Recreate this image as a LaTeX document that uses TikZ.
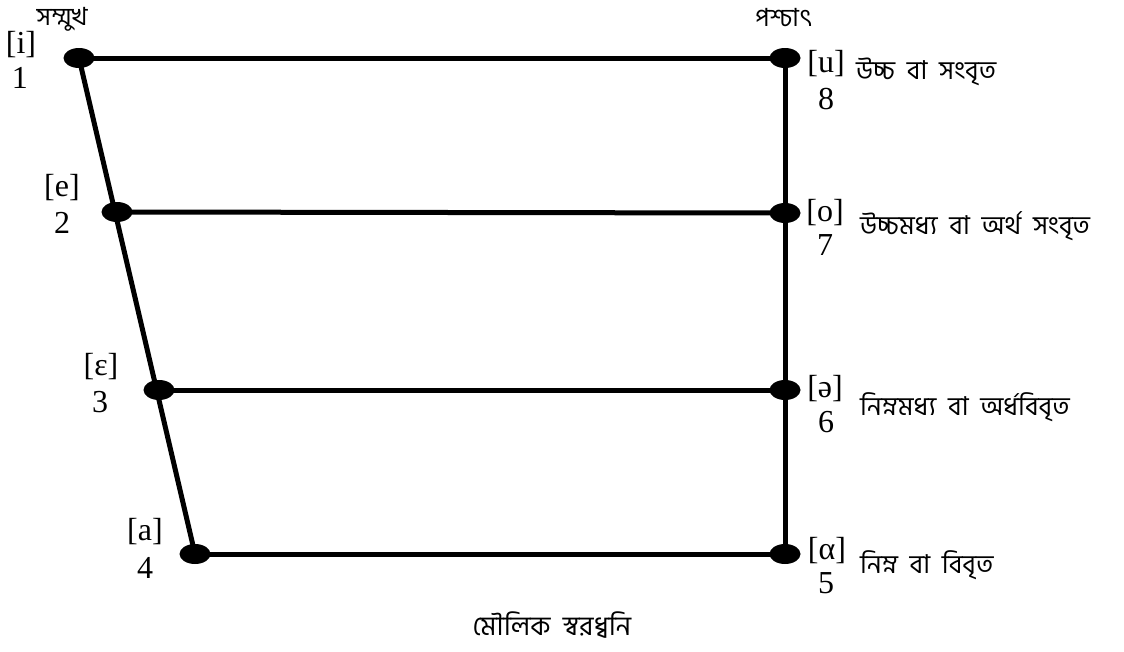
\documentclass[tikz,border=0pt]{standalone}
\usepackage{fontspec}
\setmainfont{Liberation Serif}
\newfontfamily\bn[Script=Bengali]{Hind Siliguri}
\usetikzlibrary{shapes.geometric}
\tikzset{
  dot/.style={ellipse, fill=black, inner sep=0pt, minimum width=31pt, minimum height=20pt},
  bar/.style={line width=5pt, black},
  ipa/.style={font=\fontsize{32}{32}\selectfont, inner sep=0pt},
  num/.style={font=\fontsize{32}{32}\selectfont, inner sep=0pt},
  desc/.style={font=\bn\fontsize{26}{26}\selectfont, inner sep=0pt, anchor=west},
  head/.style={font=\bn\fontsize{25}{25}\selectfont, inner sep=0pt}
}
\begin{document}
\begin{tikzpicture}[x=1pt,y=-1pt]
\useasboundingbox (0,0) rectangle (1124,651);
% vowel positions
\coordinate (p1) at (79,58);
\coordinate (p2) at (117,212);
\coordinate (p3) at (159,390);
\coordinate (p4) at (195,554);
\coordinate (p5) at (785,554);
\coordinate (p6) at (785,390);
\coordinate (p7) at (785,213);
\coordinate (p8) at (785,58);
% frame of the chart
\draw[bar] (p1) -- (p8);
\draw[bar] (p2) -- (p7);
\draw[bar] (p3) -- (p6);
\draw[bar] (p4) -- (p5);
\draw[bar] (p1) -- (p4);
\draw[bar] (p8) -- (p5);
% vowel dots
\node[dot] (v1) at (p1) {};
\node[dot] (v2) at (p2) {};
\node[dot] (v3) at (p3) {};
\node[dot] (v4) at (p4) {};
\node[dot] (v5) at (p5) {};
\node[dot] (v6) at (p6) {};
\node[dot] (v7) at (p7) {};
\node[dot] (v8) at (p8) {};
% headings
\node[head] (front) at (62,19) {সম্মুখ};
\node[head] (back) at (784,18) {পশ্চাৎ};
% front vowels
\node[ipa] (l1) at (21,45) {[i]};
\node[num] (n1) at (20,78) {1};
\node[ipa] (l2) at (62,188) {[e]};
\node[num] (n2) at (62,223) {2};
\node[ipa] (l3) at (101,367) {[ɛ]};
\node[num] (n3) at (100,402) {3};
\node[ipa] (l4) at (145,532) {[a]};
\node[num] (n4) at (145,568) {4};
% back vowels
\node[ipa] (l8) at (826,64) {[u]};
\node[num] (n8) at (826,99) {8};
\node[ipa] (l7) at (825,213) {[o]};
\node[num] (n7) at (825,245) {7};
\node[ipa] (l6) at (825,389) {[ə]};
\node[num] (n6) at (826,422) {6};
\node[ipa] (l5) at (827,551) {[α]};
\node[num] (n5) at (826,583) {5};
% tongue heights
\node[desc] (d8) at (856,72) {উচ্চ \ বা \ সংবৃত};
\node[desc] (d7) at (860,226) {উচ্চমধ্য \ বা \ অর্থ \ সংবৃত};
\node[desc] (d6) at (860,407) {নিম্নমধ্য \ বা \ অর্ধবিবৃত};
\node[desc] (d5) at (860,565) {নিম্ন \ বা \ বিবৃত};
% caption
\node[head, font=\bn\fontsize{27}{27}\selectfont] (cap) at (552,625) {মৌলিক \ স্বরধ্বনি};
\end{tikzpicture}
\end{document}
